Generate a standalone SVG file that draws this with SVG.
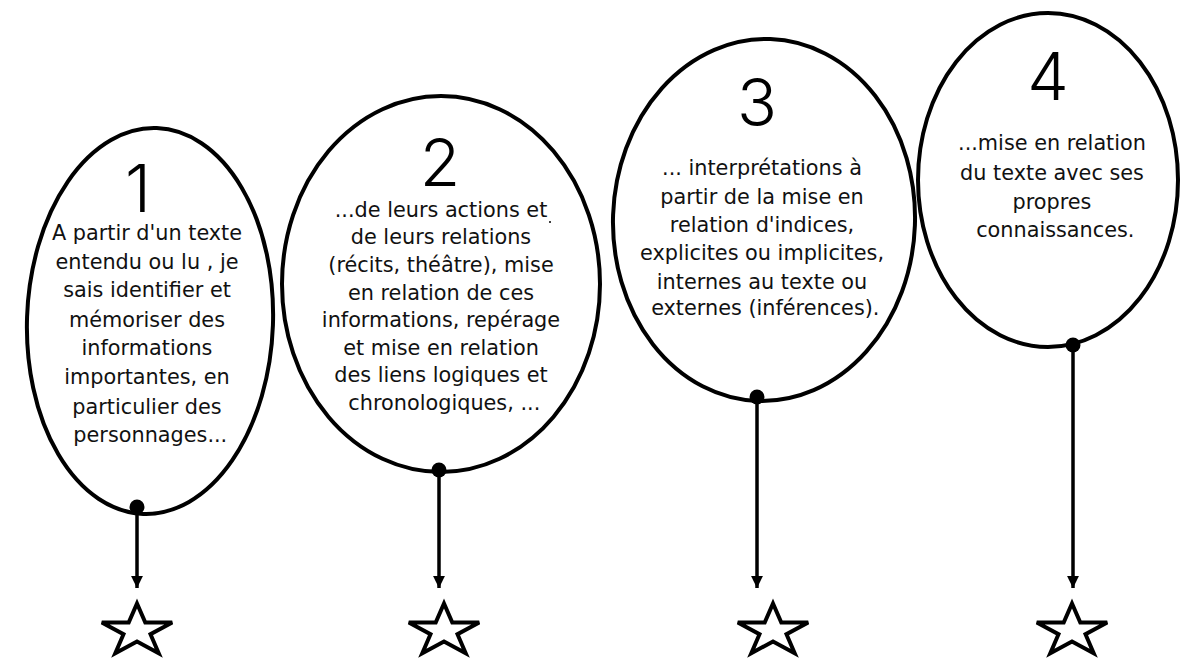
<svg xmlns="http://www.w3.org/2000/svg" width="1181" height="659" viewBox="0 0 1181 659">
<style>
.oval{fill:none;stroke:#000;stroke-width:4}
.t{font-family:'DejaVu Sans',Verdana,sans-serif;font-size:20.8px;fill:#111;text-anchor:middle}
.num{font-family:Inter,"Liberation Sans",sans-serif;font-weight:300;font-size:66px;fill:#000;text-anchor:middle}
.ln{stroke:#000;stroke-width:3.5;fill:none}
.dot{fill:#000}
.star{fill:none;stroke:#000;stroke-width:4;stroke-linejoin:miter}
</style>
<defs>
<marker id="ah" viewBox="0 0 10 10" refX="10" refY="5" markerWidth="3.4" markerHeight="3.4" orient="auto" markerUnits="strokeWidth">
<path d="M0,0 L10,5 L0,10 z" fill="#000"/>
</marker>
<polygon id="starShape" points="0,-27.5 8.3,-8.5 35.2,-8.5 13.5,3.2 21.7,22.2 0,10.5 -21.7,22.2 -13.5,3.2 -35.2,-8.5 -8.3,-8.5"/>
</defs>
<rect width="1181" height="659" fill="#fff"/>

<g id="node1">
<ellipse class="oval" cx="150" cy="321" rx="123" ry="193" transform="rotate(2 150 321)"/>
<text class="num" x="138" y="212">1</text>
<text class="t"><tspan x="147" y="240">A partir d'un texte</tspan><tspan x="147" y="269">entendu ou lu , je</tspan><tspan x="147" y="297">sais identifier et</tspan><tspan x="147" y="327">mémoriser des</tspan><tspan x="147" y="355">informations</tspan><tspan x="147" y="384">importantes, en</tspan><tspan x="147" y="414">particulier des</tspan><tspan x="147" y="442"> personnages...</tspan></text>
</g>

<g id="node2">
<ellipse class="oval" cx="441" cy="284" rx="159" ry="188"/>
<text class="num" x="440" y="186">2</text>
<text class="t"><tspan x="441" y="217">...de leurs actions et</tspan><tspan x="441" y="244">de leurs relations</tspan><tspan x="441" y="272">(récits, théâtre), mise</tspan><tspan x="441" y="300">en relation de ces</tspan><tspan x="441" y="327">informations, repérage</tspan><tspan x="441" y="355">et mise en relation</tspan><tspan x="441" y="382">des liens logiques et</tspan><tspan x="441" y="410"> chronologiques, ...</tspan></text>
<circle cx="550" cy="222" r="1" fill="#000"/>
</g>

<g id="node3">
<ellipse class="oval" cx="764" cy="220" rx="151" ry="181" transform="rotate(2 764 220)"/>
<text class="num" x="757" y="126">3</text>
<text class="t"><tspan x="762" y="175">... interprétations à</tspan><tspan x="762" y="204">partir de la mise en</tspan><tspan x="762" y="232">relation d'indices,</tspan><tspan x="762" y="260">explicites ou implicites,</tspan><tspan x="762" y="289">internes au texte ou</tspan><tspan x="762" y="315"> externes (inférences).</tspan></text>
</g>

<g id="node4">
<ellipse class="oval" cx="1048" cy="180" rx="130" ry="167"/>
<text class="num" x="1048" y="100">4</text>
<text class="t"><tspan x="1052" y="150">...mise en relation</tspan><tspan x="1052" y="180">du texte avec ses</tspan><tspan x="1052" y="209">propres</tspan><tspan x="1052" y="237"> connaissances.</tspan></text>
</g>

<g id="connectors">
<circle class="dot" cx="137" cy="507" r="7.5"/>
<line class="ln" x1="137" y1="507" x2="137" y2="588" marker-end="url(#ah)"/>
<circle class="dot" cx="439" cy="470" r="7.5"/>
<line class="ln" x1="439" y1="470" x2="439" y2="588" marker-end="url(#ah)"/>
<circle class="dot" cx="757" cy="397" r="7.5"/>
<line class="ln" x1="757" y1="397" x2="757" y2="588" marker-end="url(#ah)"/>
<circle class="dot" cx="1073" cy="345" r="7.5"/>
<line class="ln" x1="1073" y1="345" x2="1073" y2="588" marker-end="url(#ah)"/>
</g>

<g id="stars">
<use href="#starShape" class="star" transform="translate(137 631)"/>
<use href="#starShape" class="star" transform="translate(444 631)"/>
<use href="#starShape" class="star" transform="translate(773 631)"/>
<use href="#starShape" class="star" transform="translate(1072 631)"/>
</g>
</svg>
